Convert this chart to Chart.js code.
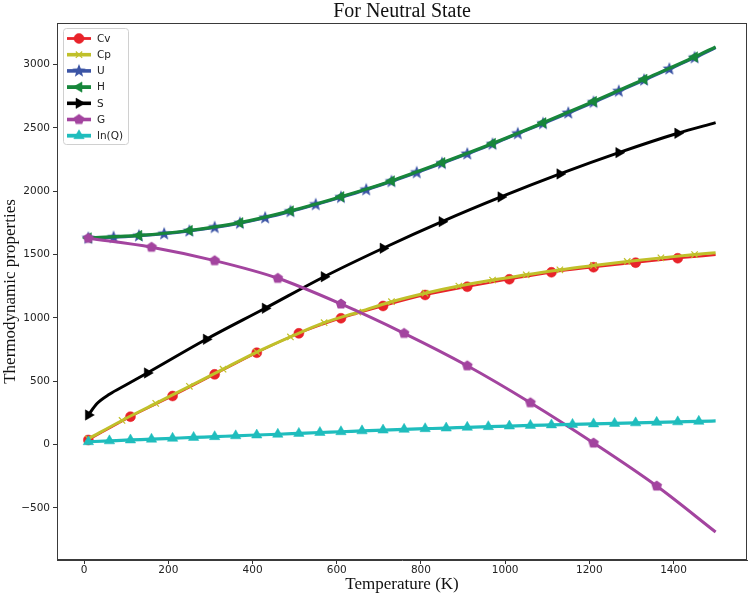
<!DOCTYPE html>
<html>
<head>
<meta charset="utf-8">
<script src="https://cdn.jsdelivr.net/npm/chart.js@4.4.0/dist/chart.umd.min.js"></script>
<style>
  html, body { margin: 0; padding: 0; background: #fff; }
</style>
</head>
<body>
<canvas id="thermo-chart" width="749" height="597"></canvas>
<script>
/* =====================
   Data
   ===================== */

const xTicks = [0, 200, 400, 600, 800, 1000, 1200, 1400];
const yTicks = [-500, 0, 500, 1000, 1500, 2000, 2500, 3000];

const tempCv = [10, 110, 210, 310, 410, 510, 610, 710, 810, 910, 1010, 1110, 1210, 1310, 1410, 1500];
const cvValues = [36, 220, 383, 554, 725, 878, 997, 1094, 1181, 1246, 1305, 1360, 1400, 1436, 1471, 1497];

const tempCp = [10, 90, 170, 250, 330, 410, 490, 570, 650, 730, 810, 890, 970, 1050, 1130, 1210, 1290, 1370, 1450, 1500];
const cpValues = [45, 190, 325, 460, 595, 730, 850, 962, 1045, 1128, 1195, 1252, 1299, 1340, 1380, 1414, 1446, 1474, 1500, 1515];

const tempU = [10, 70, 130, 190, 250, 310, 370, 430, 490, 550, 610, 670, 730, 790, 850, 910, 970, 1030, 1090, 1150, 1210, 1270, 1330, 1390, 1450, 1500];
const uValues = [1630, 1636, 1648, 1664, 1686, 1714, 1748, 1790, 1840, 1895, 1952, 2012, 2077, 2147, 2220, 2295, 2372, 2455, 2535, 2618, 2703, 2790, 2878, 2966, 3055, 3134];

const tempH = [10, 130, 250, 370, 490, 610, 730, 850, 970, 1090, 1210, 1330, 1450, 1500];
const hValues = [1632, 1651, 1690, 1752, 1845, 1957, 2082, 2226, 2378, 2541, 2709, 2884, 3061, 3140];

const tempS = [10, 30, 60, 100, 150, 290, 430, 570, 710, 850, 990, 1130, 1270, 1410, 1500];
const sValues = [233, 322, 397, 472, 565, 831, 1076, 1325, 1550, 1760, 1955, 2137, 2305, 2458, 2542];

const tempG = [10, 160, 310, 460, 610, 760, 910, 1060, 1210, 1360, 1500];
const gValues = [1629, 1558, 1452, 1313, 1110, 878, 622, 330, 12, -328, -691];

const tempLnQ = [10, 60, 110, 160, 210, 260, 310, 360, 410, 460, 510, 560, 610, 660, 710, 760, 810, 860, 910, 960, 1010, 1060, 1110, 1160, 1210, 1260, 1310, 1360, 1410, 1460, 1500];
const lnQValues = [22, 29, 36, 42, 49, 56, 62, 69, 75, 81, 88, 95, 101, 108, 114, 120, 125, 130, 136, 141, 146, 151, 155, 159, 163, 167, 171, 175, 179, 183, 186];

/* =====================
   Custom marker shapes
   ===================== */

function polygonMarker(color, points, outer, inner) {
  const size = Math.ceil(outer * 2) + 2;
  const c = document.createElement('canvas');
  c.width = size; c.height = size;
  const g = c.getContext('2d');
  g.fillStyle = color;
  g.beginPath();
  const n = inner ? points * 2 : points;
  for (let i = 0; i < n; i++) {
    const r = inner && i % 2 ? inner : outer;
    const a = -Math.PI / 2 + i * 2 * Math.PI / n;
    const px = size / 2 + Math.cos(a) * r;
    const py = size / 2 + Math.sin(a) * r;
    i ? g.lineTo(px, py) : g.moveTo(px, py);
  }
  g.closePath();
  g.fill();
  return c;
}

const COLORS = {
  cv: '#e8232a', cp: '#c0c02a', u: '#3b54a5', h: '#17863b',
  s: '#000000', g: '#a3449f', lnq: '#1fbdbd',
};

const starImg = polygonMarker(COLORS.u, 5, 7, 3);
const pentaImg = polygonMarker(COLORS.g, 5, 5.6);

// series styling (kept apart from the values)
const series = [
  { label: 'Cv',    t: tempCv,  v: cvValues,  color: COLORS.cv,  width: 2.2, step: 100, style: 'circle',   r: 5,   rot: 0 },
  { label: 'Cp',    t: tempCp,  v: cpValues,  color: COLORS.cp,  width: 3,   step: 80,  style: 'crossRot', r: 4.5, rot: 0, bw: 1.2 },
  { label: 'U',     t: tempU,   v: uValues,   color: COLORS.u,   width: 3,   step: 60,  style: starImg,    r: 7,   rot: 0 },
  { label: 'H',     t: tempH,   v: hValues,   color: COLORS.h,   width: 3.2, step: 120, style: 'triangle', r: 6,   rot: -90 },
  { label: 'S',     t: tempS,   v: sValues,   color: COLORS.s,   width: 3,   step: 140, style: 'triangle', r: 6,   rot: 90 },
  { label: 'G',     t: tempG,   v: gValues,   color: COLORS.g,   width: 3,   step: 150, style: pentaImg,   r: 5.6, rot: 0 },
  { label: 'ln(Q)', t: tempLnQ, v: lnQValues, color: COLORS.lnq, width: 3.2, step: 50,  style: 'triangle', r: 6,   rot: 0 },
];

const datasets = series.map((s, i) => ({
  label: s.label,
  data: s.t.map((t, k) => ({ x: t, y: s.v[k] })),
  borderColor: s.color,
  backgroundColor: s.color,
  borderWidth: s.width,
  cubicInterpolationMode: 'monotone',
  pointStyle: s.style,
  pointRotation: s.rot,
  pointBackgroundColor: s.color,
  pointBorderColor: s.color,
  pointBorderWidth: s.bw || 0.5,
  pointRadius: ctx => ((ctx.raw && (ctx.raw.x - 10) % s.step === 0) ? s.r : 0),
  pointHoverRadius: 0,
  order: series.length - i,
}));

/* =====================
   Plugins: title, frame, inside legend
   ===================== */

const decorations = {
  id: 'decorations',
  afterDraw(chart) {
    const { ctx, chartArea: a } = chart;
    ctx.save();
    // frame
    ctx.strokeStyle = '#3a3a3a';
    ctx.lineWidth = 1;
    ctx.strokeRect(a.left + 0.5, a.top + 0.5, a.right - a.left - 1, a.bottom - a.top - 1);

    // title
    ctx.fillStyle = '#111';
    ctx.font = '20px "Liberation Serif", "Times New Roman", serif';
    ctx.textAlign = 'center';
    ctx.textBaseline = 'middle';
    ctx.fillText('For Neutral State', (a.left + a.right) / 2, 12);

    // legend box
    const bx = a.left + 6, by = a.top + 5, bw = 65, bh = 116;
    ctx.fillStyle = 'rgba(255,255,255,0.85)';
    ctx.strokeStyle = '#d0d0d0';
    ctx.beginPath();
    ctx.roundRect(bx + 0.5, by + 0.5, bw, bh, 3);
    ctx.fill();
    ctx.stroke();

    ctx.font = '10.5px "DejaVu Sans", sans-serif';
    ctx.textAlign = 'left';
    series.forEach((s, i) => {
      const y = by + 10.5 + i * 16.2;
      ctx.strokeStyle = s.color;
      ctx.lineWidth = s.width + 0.6;
      ctx.beginPath();
      ctx.moveTo(bx + 4, y);
      ctx.lineTo(bx + 28, y);
      ctx.stroke();
      ctx.fillStyle = s.color;
      ctx.strokeStyle = s.color;
      ctx.lineWidth = s.bw || 0.5;
      Chart.helpers.drawPoint(ctx, {
        pointStyle: s.style, rotation: s.rot, radius: s.r, borderWidth: s.bw || 0.5,
      }, bx + 16, y);
      ctx.fillStyle = '#222';
      ctx.fillText(s.label, bx + 34, y + 0.5);
    });
    ctx.restore();
  },
};

const tickFont = { family: "'DejaVu Sans', sans-serif", size: 10.5 };
const axisTitleFont = { family: "'Liberation Serif', 'Times New Roman', serif", size: 17 };
const fmt = v => String(v).replace('-', '\u2212');

new Chart(document.getElementById('thermo-chart'), {
  type: 'line',
  data: { datasets },
  plugins: [decorations],
  options: {
    responsive: false,
    animation: false,
    events: [],
    // no auto padding for marker overflow, otherwise the plot loses ~8px on the right
    layout: { autoPadding: false, padding: { top: 23, right: 2, left: 0, bottom: 0 } },
    plugins: { legend: { display: false }, tooltip: { enabled: false }, title: { display: false } },
    scales: {
      x: {
        type: 'linear',
        min: -64.5,
        max: 1574.5,
        afterBuildTicks: s => { s.ticks = xTicks.map(v => ({ value: v })); },
        afterFit: s => { s.height = 37; s.paddingLeft = 0; s.paddingRight = 0; },
        grid: { drawOnChartArea: false, drawTicks: true, tickLength: 4, color: '#333' },
        border: { display: true, color: '#3a3a3a' },
        ticks: { font: tickFont, color: '#222', padding: 0, maxRotation: 0, callback: fmt },
        title: { display: true, text: 'Temperature (K)', font: axisTitleFont, color: '#111', padding: { top: 0, bottom: 2 } },
      },
      y: {
        type: 'linear',
        min: -912,
        max: 3329,
        afterBuildTicks: s => { s.ticks = yTicks.map(v => ({ value: v })); },
        afterFit: s => { s.width = 57; s.paddingTop = 0; s.paddingBottom = 0; },
        grid: { drawOnChartArea: false, drawTicks: true, tickLength: 4, color: '#333' },
        border: { display: true, color: '#3a3a3a' },
        ticks: { font: tickFont, color: '#222', padding: 3, callback: fmt },
        title: { display: true, text: 'Thermodynamic properties', font: axisTitleFont, color: '#111', padding: { top: 0, bottom: 0 } },
      },
    },
  },
});
</script>
</body>
</html>
